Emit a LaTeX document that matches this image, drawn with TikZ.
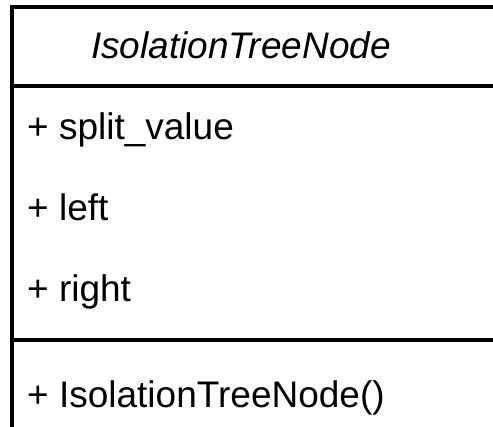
\documentclass[tikz,border=0pt]{standalone}
\usepackage{fontspec}
\setmainfont{Liberation Sans}
\begin{document}
\begin{tikzpicture}[x=1pt,y=-1pt,
  umlline/.style={line width=3.6pt,draw=black},
  umltext/.style={inner sep=0pt,font=\fontsize{37}{44}\selectfont,text=black}]
\useasboundingbox (0,0) rectangle (493,427);
\clip (0,0) rectangle (493,427);
\fill[white] (0,0) rectangle (493,427);
% class frame: top edge, left edge, compartment separators
\coordinate (tl) at (12,6.8);
\draw[umlline,line cap=rect] (tl) -- (500,6.8);
\draw[umlline] (tl) -- (12,440);
\draw[umlline] (12,86) -- (500,86);
\draw[umlline] (12,340) -- (500,340);
% class name
\node[umltext,anchor=base,font=\fontsize{37}{44}\selectfont\itshape] (name) at (241,59) {IsolationTreeNode};
% attributes
\node[umltext,anchor=base west] (attrA) at (27,140) {+ split\_value};
\node[umltext,anchor=base west] (attrB) at (27,221) {+ left};
\node[umltext,anchor=base west] (attrC) at (27,302) {+ right};
% operations
\node[umltext,anchor=base west] (opA) at (27,408) {+ IsolationTreeNode()};
\end{tikzpicture}
\end{document}
